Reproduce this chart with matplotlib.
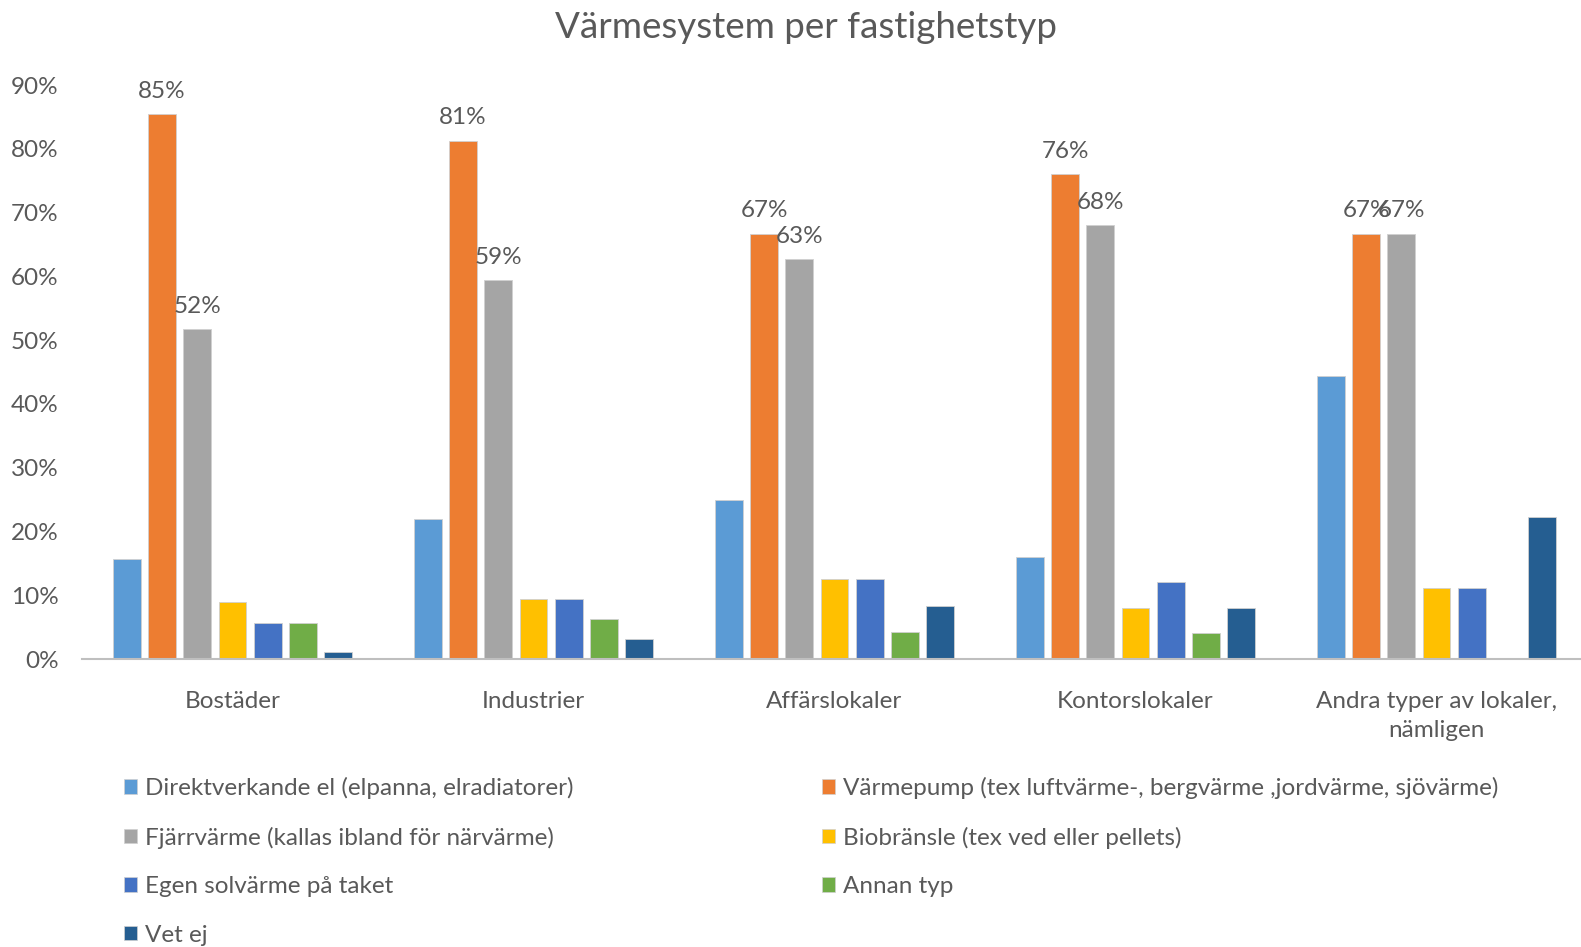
import numpy as np
import matplotlib
matplotlib.use("Agg")
import matplotlib.pyplot as plt
from matplotlib.patches import Patch
from matplotlib.ticker import PercentFormatter

plt.rcParams['font.family'] = ['Lato', 'DejaVu Sans']

categories = ["Bostäder", "Industrier", "Affärslokaler", "Kontorslokaler",
              "Andra typer av lokaler,\nnämligen"]

series_names = [
    "Direktverkande el (elpanna, elradiatorer)",
    "Värmepump (tex luftvärme-, bergvärme ,jordvärme, sjövärme)",
    "Fjärrvärme (kallas ibland för närvärme)",
    "Biobränsle (tex ved eller pellets)",
    "Egen solvärme på taket",
    "Annan typ",
    "Vet ej",
]

direktverkande = [0.157, 0.219, 0.250, 0.16, 0.444]
varmepump = [0.854, 0.8125, 0.667, 0.76, 0.667]
fjarrvarme = [0.517, 0.594, 0.627, 0.68, 0.667]
biobransle = [0.090, 0.094, 0.125, 0.08, 0.111]
solvarme = [0.056, 0.094, 0.125, 0.12, 0.111]
annan = [0.056, 0.0625, 0.042, 0.04, 0.0]
vet_ej = [0.011, 0.031, 0.083, 0.08, 0.222]

colors = ["#5B9BD5", "#ED7D31", "#A5A5A5", "#FFC000", "#4472C4", "#70AD47", "#255E91"]
labelled = [1, 2]  # only these series carry data labels

all_series = [direktverkande, varmepump, fjarrvarme, biobransle, solvarme, annan, vet_ej]
text_col = "#595959"

fig = plt.figure(figsize=(15.81, 9.47), dpi=100)
ax = fig.add_axes([82 / 1581, 1 - 659 / 947, 1505 / 1581, 574 / 947])

x = np.arange(len(categories))
slot = 0.117
width = 0.093
for i, vals in enumerate(all_series):
    pos = x + (i - 3) * slot
    bars = ax.bar(pos, vals, width, color=colors[i], edgecolor="#d0d0d0", linewidth=0.6)
    if i in labelled:
        for b, v in zip(bars, vals):
            ax.annotate(f"{v * 100:.0f}%", (b.get_x() + b.get_width() / 2, v),
                        xytext=(0, 9), textcoords="offset points",
                        ha="center", va="bottom", fontsize=17.5, color=text_col)

ax.set_xlim(-0.5, 4.5)
ax.set_ylim(0, 0.9)
ax.set_yticks(np.arange(0, 0.91, 0.1))
ax.yaxis.set_major_formatter(PercentFormatter(1.0, decimals=0))
ax.set_xticks(x)
ax.set_xticklabels(categories, linespacing=1.5)
ax.tick_params(axis="y", length=0, pad=17, labelsize=17.5, labelcolor=text_col)
ax.tick_params(axis="x", length=0, pad=23, labelsize=17.5, labelcolor=text_col)
for s in ["top", "right", "left"]:
    ax.spines[s].set_visible(False)
ax.spines["bottom"].set_color("#bfbfbf")
ax.spines["bottom"].set_linewidth(1.5)

fig.text(0.51, 1 - 27 / 947, "Värmesystem per fastighetstyp", ha="center", va="center",
         fontsize=26.5, color=text_col)

handles = [Patch(facecolor=c, edgecolor="#d0d0d0", linewidth=0.5) for c in colors]
left_idx = [0, 2, 4, 6]
right_idx = [1, 3, 5]
leg_kw = dict(frameon=False, fontsize=17.5, labelcolor=text_col, handlelength=0.55,
              handleheight=0.55, handletextpad=0.3, labelspacing=1.13,
              borderaxespad=0, borderpad=0)
fig.legend([handles[i] for i in left_idx], [series_names[i] for i in left_idx],
           loc="upper left", bbox_to_anchor=(124 / 1581, 1 - 777 / 947), **leg_kw)
fig.legend([handles[i] for i in right_idx], [series_names[i] for i in right_idx],
           loc="upper left", bbox_to_anchor=(822 / 1581, 1 - 777 / 947), **leg_kw)

fig.savefig("out.png", dpi=100, facecolor="white")
